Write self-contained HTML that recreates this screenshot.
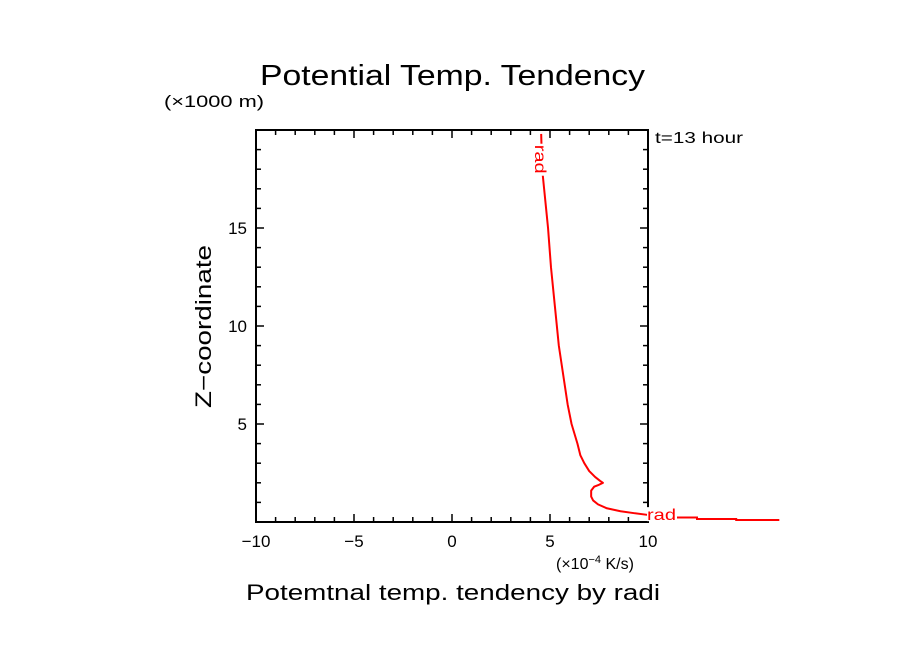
<!DOCTYPE html>
<html><head><meta charset="utf-8">
<style>
body{margin:0;background:#fff;}
svg text{font-family:"Liberation Sans",sans-serif;}
</style></head>
<body>
<svg id="chart" width="904" height="654" xmlns="http://www.w3.org/2000/svg">
<rect width="904" height="654" fill="#fff"/>
<text x="260" y="85" font-size="29" textLength="385" lengthAdjust="spacingAndGlyphs">Potential Temp. Tendency</text>
<text x="164" y="107" font-size="17" textLength="100" lengthAdjust="spacingAndGlyphs">(×1000 m)</text>
<text x="655" y="143" font-size="16" textLength="88" lengthAdjust="spacingAndGlyphs">t=13 hour</text>
<text transform="translate(211,408) rotate(-90)" font-size="22" textLength="163" lengthAdjust="spacingAndGlyphs">Z−coordinate</text>
<text x="556" y="569" font-size="16">(×10<tspan font-size="11" dy="-6">−4</tspan><tspan dy="6"> K/s)</tspan></text>
<text x="246" y="600" font-size="22" textLength="414" lengthAdjust="spacingAndGlyphs">Potemtnal temp. tendency by radi</text>
<g id="axes"></g>
<g id="series"></g>
</svg>
<script>
const xTicks=[-10,-5,0,5,10];
const yTicks=[5,10,15];
const seriesX=[4.55,4.6,4.7,4.8,4.9,5.05,5.25,5.45,5.75,5.9,6.1,6.4,6.55,6.75,7.0,7.3,7.55,7.7,7.5,7.25,7.1,7.1,7.2,7.45,7.9,8.6,9.3,10.0];
const seriesZ=[19.8,18.0,17.0,16.0,15.0,13.0,11.0,9.0,7.0,6.0,5.0,4.0,3.4,3.0,2.6,2.3,2.1,2.0,1.9,1.8,1.6,1.3,1.1,0.9,0.7,0.55,0.45,0.36];
const tailX=[11.3,12.5,12.5,14.5,14.5,16.7];
const tailZ=[0.23,0.23,0.15,0.15,0.1,0.1];
const X0=256,X1=648,Y0=522,Y1=130,xmin=-10,xmax=10,zmin=0,zmax=20;
const sx=v=>X0+(v-xmin)/(xmax-xmin)*(X1-X0);
const sy=v=>Y0-(v-zmin)/(zmax-zmin)*(Y0-Y1);
const NS="http://www.w3.org/2000/svg";
const ax=document.getElementById('axes');
function mk(tag,at,parent){const e=document.createElementNS(NS,tag);for(const k in at)e.setAttribute(k,at[k]);parent.appendChild(e);return e;}
const fr=mk('rect',{x:X0,y:Y1,width:X1-X0,height:Y0-Y1,fill:'none',stroke:'#000','stroke-width':2},ax);


for(let v=xmin;v<=xmax;v++){
  const L=(v%5===0)?8:5;const x=sx(v);
  const t1=mk('line',{x1:x,y1:Y0,x2:x,y2:Y0-L,stroke:'#000','stroke-width':1.5},ax);
  
  
  const t2=mk('line',{x1:x,y1:Y1,x2:x,y2:Y1+L,stroke:'#000','stroke-width':1.5},ax);
  
  
}
for(let v=zmin;v<zmax;v++){
  const L=(v%5===0)?8:5;const y=sy(v);
  const t1=mk('line',{x1:X0,y1:y,x2:X0+L,y2:y,stroke:'#000','stroke-width':1.5},ax);
  
  
  const t2=mk('line',{x1:X1,y1:y,x2:X1-L,y2:y,stroke:'#000','stroke-width':1.5},ax);
  
  
}
xTicks.forEach(v=>{
  const t=mk('text',{x:sx(v),y:Y0+25,'font-size':17,'text-anchor':'middle'},ax);
  t.textContent=(v<0?'−'+(-v):String(v));
  
  
});
yTicks.forEach(v=>{
  const t=mk('text',{x:X0-9,y:sy(v)+6,'font-size':17,'text-anchor':'end'},ax);
  t.textContent=String(v);
  
  
});
const sg=document.getElementById('series');
const p=mk('polyline',{points:seriesX.map((v,i)=>sx(v)+','+sy(seriesZ[i])).join(' '),fill:'none',stroke:'#f00','stroke-width':2,'stroke-linejoin':'round'},sg);


const tp=mk('polyline',{points:tailX.map((v,i)=>sx(v)+','+sy(tailZ[i])).join(' '),fill:'none',stroke:'#f00','stroke-width':2},sg);


const bg1=mk('rect',{x:sx(10.0)-1,y:sy(0.35)-8,width:30,height:14,fill:'#fff'},sg);


const l1=mk('text',{x:sx(10.0)-1,y:sy(0.35)+5,'font-size':16,fill:'#f00',textLength:29,lengthAdjust:'spacingAndGlyphs'},sg);
l1.textContent='rad';


const bg2=mk('rect',{x:sx(4.55)-7,y:sy(19.3),width:14,height:32,fill:'#fff'},sg);


const l2=mk('text',{x:0,y:0,'font-size':16,fill:'#f00',textLength:29,lengthAdjust:'spacingAndGlyphs',transform:'translate('+(sx(4.55)-6)+','+(sy(19.3)+1)+') rotate(90)'},sg);
l2.textContent='rad';


</script>
</body></html>
